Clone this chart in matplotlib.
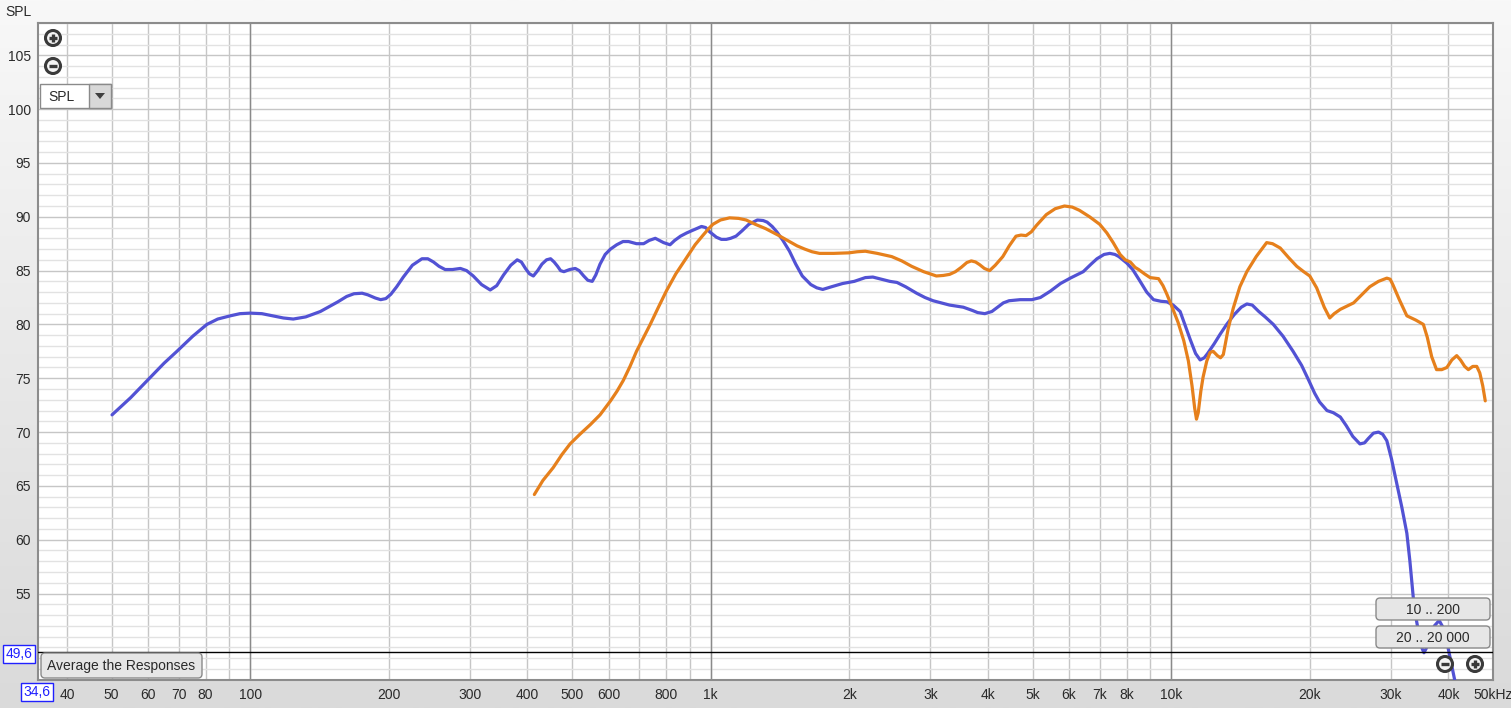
import numpy as np
import matplotlib
matplotlib.use('Agg')
import matplotlib.pyplot as plt
from matplotlib.patches import FancyBboxPatch, Rectangle, Circle, Polygon

plt.rcParams['font.family'] = ['Liberation Sans', 'DejaVu Sans']

blue_freq = [50.1, 55, 60.1, 65, 69.3, 75, 80.5, 85, 90.5, 95, 100, 106, 112, 118, 124, 132,
             142, 155, 162, 168, 175, 180, 187, 192, 197, 202, 208, 215, 225, 236, 243, 250,
             257, 265, 275, 286, 295, 305, 318, 332, 343, 355, 368, 380, 388, 396, 404, 412,
             421, 430, 440, 449, 457, 465, 472, 480, 494, 508, 518, 530, 541, 553, 563, 575,
             590, 606, 625, 645, 663, 690, 715, 735, 758, 790, 816, 835, 860, 887, 920, 955,
             975, 995, 1029, 1055, 1081, 1105, 1135, 1170, 1210, 1263, 1300, 1326, 1360,
             1392, 1435, 1483, 1530, 1581, 1650, 1700, 1751, 1830, 1934, 2050, 2167, 2250,
             2350, 2450, 2538, 2650, 2800, 2920, 3041, 3170, 3300, 3537, 3700, 3800, 3938,
             4080, 4200, 4320, 4446, 4700, 4985, 5200, 5470, 5750, 6037, 6240, 6443, 6700,
             6900, 7150, 7360, 7550, 7700, 8010, 8250, 8535, 8850, 9155, 9500, 9790, 10100,
             10460, 10750, 11000, 11300, 11560, 11800, 12000, 12400, 12780, 13200, 13700,
             14200, 14600, 15000, 15500, 16000, 16670, 17500, 18400, 19200, 19900, 20500,
             21000, 21800, 22500, 23300, 24000, 24800, 25700, 26300, 26800, 27500, 28200,
             28800, 29400, 30100, 30900, 31700, 32500, 33000, 33600, 34000, 34500, 35000,
             35400, 35800, 36500, 37300, 38200, 39000, 39700, 40500, 41500]
blue_spl = [71.6, 73.2, 74.9, 76.4, 77.5, 78.9, 80.0, 80.5, 80.8, 81.0, 81.05, 81.0, 80.8, 80.6,
            80.5, 80.7, 81.2, 82.1, 82.6, 82.85, 82.9, 82.75, 82.45, 82.3, 82.4, 82.8, 83.5,
            84.4, 85.5, 86.1, 86.1, 85.8, 85.4, 85.1, 85.1, 85.2, 85.0, 84.5, 83.7, 83.2, 83.6,
            84.6, 85.5, 86.0, 85.8, 85.2, 84.7, 84.5, 85.0, 85.6, 86.0, 86.1, 85.8, 85.4, 85.0,
            84.9, 85.1, 85.2, 85.0, 84.5, 84.1, 84.0, 84.6, 85.6, 86.5, 87.0, 87.4, 87.7, 87.7,
            87.5, 87.5, 87.8, 88.0, 87.6, 87.4, 87.8, 88.2, 88.5, 88.8, 89.1, 89.0, 88.6, 88.1,
            87.9, 87.9, 88.0, 88.2, 88.7, 89.3, 89.7, 89.65, 89.5, 89.1, 88.6, 87.8, 86.8,
            85.6, 84.5, 83.7, 83.4, 83.25, 83.5, 83.8, 84.0, 84.35, 84.4, 84.2, 84.0, 83.9,
            83.5, 82.9, 82.5, 82.2, 82.0, 81.8, 81.6, 81.3, 81.1, 81.0, 81.2, 81.6, 82.0, 82.2,
            82.3, 82.3, 82.5, 83.1, 83.8, 84.3, 84.6, 84.9, 85.6, 86.1, 86.5, 86.6, 86.5, 86.3,
            85.7, 85.1, 84.1, 83.0, 82.3, 82.15, 82.1, 81.8, 81.2, 79.8, 78.6, 77.3, 76.7,
            76.9, 77.3, 78.2, 79.1, 80.0, 80.9, 81.6, 81.9, 81.8, 81.2, 80.7, 80.0, 78.9,
            77.5, 76.2, 74.8, 73.6, 72.8, 72.0, 71.8, 71.4, 70.6, 69.6, 68.9, 69.0, 69.4,
            69.9, 70.0, 69.8, 69.2, 67.5, 65.2, 63.0, 60.6, 58.0, 54.4, 52.8, 51.3, 50.0,
            49.5, 49.9, 50.8, 52.0, 52.5, 51.8, 50.5, 48.7, 46.5]

orange_freq = [414, 432, 455, 475, 495, 520, 548, 575, 606, 626, 646, 668, 690, 715, 739, 770,
               801, 840, 886, 925, 963, 990, 1011, 1050, 1099, 1150, 1194, 1250, 1316, 1400,
               1483, 1540, 1600, 1660, 1723, 1850, 1997, 2080, 2167, 2300, 2473, 2600, 2731,
               2900, 3091, 3200, 3303, 3400, 3500, 3600, 3681, 3760, 3838, 3930, 4034, 4150,
               4309, 4450, 4603, 4720, 4840, 4970, 5100, 5356, 5600, 5866, 6100, 6321, 6650,
               6996, 7250, 7483, 7746, 7950, 8152, 8350, 8500, 8750, 9002, 9200, 9389, 9600,
               9790, 10050, 10350, 10650, 10900, 11100, 11250, 11350, 11450, 11600, 11730,
               11950, 12150, 12340, 12600, 12800, 12980, 13300, 13640, 14100, 14600, 15300,
               16120, 16600, 17250, 18000, 18740, 19400, 20000, 20700, 21500, 22100, 22600,
               23300, 24100, 24900, 26000, 27000, 28200, 29400, 29900, 30300, 31300, 32500,
               34000, 35300, 36000, 36800, 37700, 38700, 39700, 40700, 41700, 42500, 43400,
               44200, 45200, 46100, 46800, 47500, 48100]
orange_spl = [64.2, 65.5, 66.7, 67.9, 68.9, 69.8, 70.7, 71.6, 72.9, 73.8, 74.8, 76.1, 77.5, 78.8,
              80.0, 81.6, 83.1, 84.7, 86.2, 87.4, 88.3, 88.9, 89.3, 89.7, 89.9, 89.85, 89.7,
              89.3, 88.9, 88.3, 87.7, 87.3, 87.0, 86.75, 86.6, 86.6, 86.65, 86.75, 86.8, 86.6,
              86.3, 85.9, 85.4, 84.9, 84.5, 84.55, 84.65, 84.9, 85.3, 85.75, 85.9, 85.8, 85.55,
              85.2, 85.0, 85.5, 86.3, 87.3, 88.2, 88.3, 88.25, 88.6, 89.2, 90.2, 90.75, 91.0,
              90.9, 90.6, 90.0, 89.3, 88.5, 87.6, 86.5, 86.0, 85.8, 85.3, 85.1, 84.7, 84.35,
              84.3, 84.25, 83.6, 82.8, 81.6, 80.2, 78.5, 76.6, 74.3, 72.2, 71.2, 71.8, 73.8,
              75.1, 76.6, 77.4, 77.5, 77.1, 76.9, 77.2, 79.6, 81.5, 83.5, 84.9, 86.3, 87.6,
              87.5, 87.1, 86.2, 85.4, 84.9, 84.5, 83.4, 81.6, 80.6, 81.0, 81.4, 81.7, 82.0,
              82.8, 83.5, 84.0, 84.3, 84.2, 83.7, 82.3, 80.8, 80.4, 80.0, 78.8, 77.0, 75.8,
              75.8, 76.0, 76.7, 77.1, 76.7, 76.1, 75.8, 76.1, 76.1, 75.5, 74.3, 72.9]

x_ticks = [40, 50, 60, 70, 80, 100, 200, 300, 400, 500, 600, 800, 1000, 2000, 3000, 4000,
           5000, 6000, 7000, 8000, 10000, 20000, 30000, 40000, 50000]
x_labels = ['40', '50', '60', '70', '80', '100', '200', '300', '400', '500', '600', '800',
            '1k', '2k', '3k', '4k', '5k', '6k', '7k', '8k', '10k', '20k', '30k', '40k', '50kHz']
y_ticks = [55, 60, 65, 70, 75, 80, 85, 90, 95, 100, 105]

W, H = 1511, 708
fig = plt.figure(figsize=(W / 100, H / 100), dpi=100)

# background gradient
bg = fig.add_axes([0, 0, 1, 1])
grad = np.linspace(0, 1, 256).reshape(-1, 1)
bg.imshow(grad, aspect='auto', cmap=matplotlib.colors.LinearSegmentedColormap.from_list(
    'g', ['#f8f8f8', '#dadada']), extent=[0, 1, 0, 1], origin='upper')
bg.axis('off')

# main plot area
L, R, T, B = 38, 1493, 23, 680
ax = fig.add_axes([L / W, 1 - B / H, (R - L) / W, (B - T) / H])
ax.set_facecolor('white')
ax.set_xscale('log')
ax.set_xlim(34.6, 50000)
ax.set_ylim(46.97, 108.0)

grid_x = [f * d for d in (10, 100, 1000, 10000) for f in range(1, 10) if 34.6 < f * d <= 50000]
ax.set_xticks(grid_x, minor=True)
ax.set_xticks(x_ticks, x_labels)
ax.xaxis.set_minor_formatter(matplotlib.ticker.NullFormatter())
ax.set_yticks(np.arange(47, 109), minor=True)
ax.set_yticks(y_ticks, [str(v) for v in y_ticks])
ax.xaxis.grid(True, which='both', color='#c6c6c6', lw=1.0)
ax.yaxis.grid(True, which='minor', color='#e2e2e2', lw=1.0)
ax.yaxis.grid(True, which='major', color='#c6c6c6', lw=1.0)
for d in (100, 1000, 10000):
    ax.axvline(d, color='#8a8a8a', lw=1.0, zorder=1)
ax.set_axisbelow(True)
ax.tick_params(which='both', length=0, labelsize=10, colors='#2a2a2a')
ax.tick_params(axis='x', pad=6)
ax.tick_params(axis='y', pad=5)
for s in ax.spines.values():
    s.set_color('#8c8c8c')
    s.set_linewidth(1.5)

ax.plot(blue_freq, blue_spl, color='#5252d4', lw=2.3, solid_joinstyle='round',
        solid_capstyle='round', zorder=3)
ax.plot(orange_freq, orange_spl, color='#e6801c', lw=2.3, solid_joinstyle='round',
        solid_capstyle='round', zorder=3)
ax.axhline(49.6, color='black', lw=1.0, zorder=4)

# overlay controls in pixel coordinates
ov = fig.add_axes([0, 0, 1, 1])
ov.set_xlim(0, W)
ov.set_ylim(H, 0)
ov.axis('off')
ov.patch.set_alpha(0)

ov.text(5, 12, 'SPL', fontsize=10, color='#2a2a2a', va='center', ha='left')


def button(x0, y0, x1, y1, label):
    ov.add_patch(FancyBboxPatch((x0, y0), x1 - x0, y1 - y0,
                                boxstyle='round,pad=0,rounding_size=4',
                                fc='#e6e6e6', ec='#8a8a8a', lw=1.0, zorder=5))
    ov.text((x0 + x1) / 2, (y0 + y1) / 2 + 0.5, label, fontsize=10, color='#2a2a2a',
            ha='center', va='center', zorder=6)


button(41, 653, 202, 678, 'Average the Responses')
button(1376, 598, 1490, 620, '10 .. 200')
button(1376, 626, 1490, 648, '20 .. 20 000')


def zoom_icon(cx, cy, plus):
    ov.add_patch(Circle((cx, cy), 7.5, fc='#f4f4f4', ec='#3a3a3a', lw=2.2, zorder=5))
    ov.plot([cx - 4, cx + 4], [cy, cy], color='#3a3a3a', lw=2.4, zorder=6,
            solid_capstyle='butt')
    if plus:
        ov.plot([cx, cx], [cy - 4, cy + 4], color='#3a3a3a', lw=2.4, zorder=6,
                solid_capstyle='butt')


zoom_icon(53, 38, True)
zoom_icon(53, 66, False)
zoom_icon(1445, 664, False)
zoom_icon(1475, 664, True)

# SPL dropdown
ov.add_patch(Rectangle((40, 84), 71, 24, fc='white', ec='#8a8a8a', lw=1.0, zorder=5))
ov.add_patch(Rectangle((89, 84), 22, 24, fc='#d8d8d8', ec='#8a8a8a', lw=1.0, zorder=5))
ov.add_patch(Polygon([[95, 93], [105, 93], [100, 99]], closed=True, fc='#404040', zorder=6))
ov.text(48, 97, 'SPL', fontsize=10, color='#2a2a2a', va='center', ha='left', zorder=6)

# range value boxes
ov.text(19, 654, '49,6', fontsize=10, color='#2020ff', ha='center', va='center', zorder=6,
        bbox=dict(boxstyle='square,pad=0.15', fc='white', ec='#2020ff', lw=1.0))
ov.text(37, 692, '34,6', fontsize=10, color='#2020ff', ha='center', va='center', zorder=6,
        bbox=dict(boxstyle='square,pad=0.15', fc='white', ec='#2020ff', lw=1.0))

fig.savefig('out.png', dpi=100)
